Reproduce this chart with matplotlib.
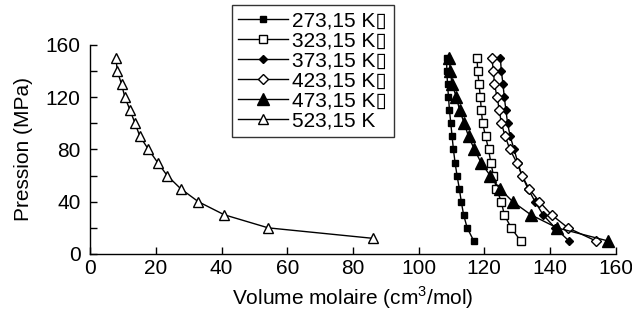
import matplotlib
matplotlib.use("Agg")
import matplotlib.pyplot as plt
from matplotlib.ticker import MultipleLocator

plt.rcParams['font.family'] = ['Liberation Sans', 'DejaVu Sans']

# Pressure (MPa) for each isotherm
p_main = [150, 140, 130, 120, 110, 100, 90, 80, 70, 60, 50, 40, 30, 20, 10]
p_523 = [150, 140, 130, 120, 110, 100, 90, 80, 70, 60, 50, 40, 30, 20, 12]

# Molar volume (cm3/mol)
v_273 = [108.5, 108.6, 108.8, 109.1, 109.4, 109.8, 110.2, 110.6, 111.1, 111.7,
         112.4, 113.0, 113.7, 114.8, 116.8]
v_323 = [117.8, 118.0, 118.4, 118.8, 119.1, 119.5, 120.4, 121.3, 122.0, 122.8,
         123.7, 125.2, 126.1, 128.2, 131.1]
v_373 = [124.9, 125.2, 125.7, 126.1, 126.6, 127.1, 127.9, 129.1, 130.2, 131.5,
         133.3, 135.5, 137.9, 141.6, 145.8]
v_423 = [122.3, 122.8, 123.1, 123.9, 124.6, 125.2, 126.4, 127.8, 129.9, 131.5,
         133.6, 136.8, 140.5, 145.5, 154.0]
v_473 = [109.4, 109.6, 110.2, 111.5, 112.5, 113.9, 115.2, 117.0, 119.0, 121.8,
         124.7, 128.7, 134.2, 142.2, 157.7]
v_523 = [7.8, 8.2, 9.5, 10.5, 12.1, 13.6, 15.1, 17.7, 20.5, 23.4,
         27.5, 32.9, 40.8, 54.2, 86.0]

labels = ['273,15 K\u25af', '323,15 K\u25af', '373,15 K\u25af',
          '423,15 K\u25af', '473,15 K\u25af', '523,15 K']

fig = plt.figure(figsize=(6.32, 3.13), dpi=100)
ax = fig.add_axes([0.143, 0.1885, 0.831, 0.668])

ax.plot(v_273, p_main, '-', color='black', lw=1, marker='s', ms=5,
        mfc='black', mec='black', label=labels[0])
ax.plot(v_323, p_main, '-', color='black', lw=1, marker='s', ms=5.5,
        mfc='white', mec='black', mew=1, label=labels[1])
ax.plot(v_373, p_main, '-', color='black', lw=1, marker='D', ms=4,
        mfc='black', mec='black', label=labels[2])
ax.plot(v_423, p_main, '-', color='black', lw=1, marker='D', ms=5.5,
        mfc='white', mec='black', mew=1, label=labels[3])
ax.plot(v_473, p_main, '-', color='black', lw=1, marker='^', ms=8.5,
        mfc='black', mec='black', label=labels[4])
ax.plot(v_523, p_523, '-', color='black', lw=1, marker='^', ms=6.5,
        mfc='white', mec='black', mew=1, label=labels[5])

ax.set_xlim(0, 160)
ax.set_ylim(0, 160)
ax.xaxis.set_major_locator(MultipleLocator(20))
ax.yaxis.set_major_locator(MultipleLocator(40))
ax.yaxis.set_minor_locator(MultipleLocator(20))
ax.tick_params(which='both', direction='in', labelsize=15, width=1, color='black')
ax.tick_params(which='major', length=5)
ax.tick_params(which='minor', length=5)
ax.tick_params(axis='y', which='both', pad=7)
ax.spines['top'].set_visible(False)
ax.spines['right'].set_visible(False)
for s in ['left', 'bottom']:
    ax.spines[s].set_linewidth(1)

ax.set_xlabel('Volume molaire (cm$^{\\mathregular{3}}$/mol)', fontsize=15, labelpad=5)
ax.set_ylabel('Pression (MPa)', fontsize=15, labelpad=9)

leg = fig.legend(loc='upper left', bbox_to_anchor=(0.367, 0.984),
                 bbox_transform=fig.transFigure, borderaxespad=0,
                 fontsize=15, handlelength=2.4, handletextpad=0.2,
                 labelspacing=0.05, borderpad=0.3, frameon=True, fancybox=False)
leg.get_frame().set_edgecolor('black')
leg.get_frame().set_linewidth(1)

fig.savefig('out.png', dpi=100)
